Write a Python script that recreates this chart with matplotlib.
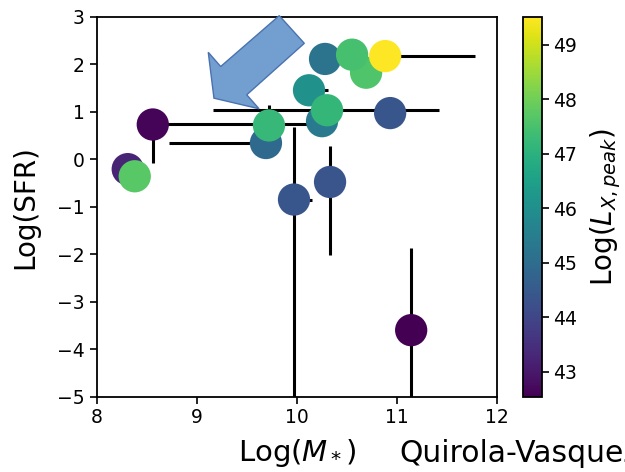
import matplotlib
matplotlib.use("Agg")
import matplotlib.pyplot as plt
import numpy as np
from matplotlib.patches import Polygon

# Data (order controls drawing overlap)
logM   = [8.31, 8.38, 9.69, 9.72, 8.56, 10.28, 10.69, 10.55, 10.88, 10.12, 10.25, 10.30, 10.93, 10.33, 9.97, 11.14]
logSFR = [-0.21, -0.36, 0.34, 0.71, 0.73, 2.11, 1.82, 2.20, 2.17, 1.45, 0.80, 1.03, 0.97, -0.48, -0.85, -3.60]
logLx  = [43.24, 47.7, 44.9, 47.22, 42.6, 45.2, 47.6, 47.45, 49.52, 46.03, 45.4, 47.15, 44.4, 44.35, 44.4, 42.54]
xerr_lo = [0, 0, 0.97, 0, 0, 0, 0, 0, 0, 0, 0, 1.14, 0, 0, 0, 0]
xerr_hi = [0, 0, 0, 0, 1.55, 0, 0, 0, 0.90, 0.19, 0, 1.12, 0, 0, 0.18, 0]
yerr_lo = [0, 0, 0, 0, 0.82, 0, 0, 0, 0, 0, 0, 0, 0, 1.54, 4.5, 2.0]
yerr_hi = [0, 0, 0, 0.44, 0, 0, 0, 0, 0, 0, 0, 0, 0, 0.76, 1.52, 1.72]

x_ticks = [8, 9, 10, 11, 12]
y_ticks = [-5, -4, -3, -2, -1, 0, 1, 2, 3]
cb_ticks = [43, 44, 45, 46, 47, 48, 49]

fig = plt.figure(figsize=(6.25, 4.72), dpi=100)
ax = fig.add_axes([0.1547, 0.1596, 0.6410, 0.8051])
cax = fig.add_axes([0.8363, 0.1596, 0.0304, 0.8051])

ax.errorbar(logM, logSFR, xerr=[xerr_lo, xerr_hi], yerr=[yerr_lo, yerr_hi],
            fmt='none', ecolor='black', elinewidth=2.2, capsize=0, zorder=1)
sc = ax.scatter(logM, logSFR, c=logLx, cmap='viridis', s=540,
                vmin=min(logLx), vmax=max(logLx), edgecolors='none', zorder=2)

ax.set_xlim(8, 12)
ax.set_ylim(-5, 3)
ax.set_xticks(x_ticks)
ax.set_yticks(y_ticks)
ax.tick_params(labelsize=13.5, length=5, width=1.2)
for s in ax.spines.values():
    s.set_linewidth(1.3)
ax.set_xlabel(r'Log($M_*$)', fontsize=21, labelpad=7)
ax.set_ylabel('Log(SFR)', fontsize=20, labelpad=13)

cb = fig.colorbar(sc, cax=cax, ticks=cb_ticks)
cb.ax.tick_params(labelsize=13.5, length=5, width=1.2)
cb.outline.set_linewidth(1.3)
cb.set_label(r'Log($L_{X,peak}$)', fontsize=20, labelpad=8)

# Block arrow annotation
arrow_pts = [(9.171, 1.284), (9.114, 2.250), (9.238, 1.950), (9.823, 3.021),
             (10.073, 2.439), (9.498, 1.355), (9.621, 1.061)]
ax.add_patch(Polygon(arrow_pts, closed=True, facecolor='#729fcf',
                     edgecolor='#4a72b0', linewidth=1.0, zorder=5, clip_on=False))

fig.text(399 / 625, 0.022, 'Quirola-Vasquez+2022', fontsize=21.5,
         va='baseline', ha='left')

fig.savefig('out.png', dpi=100)
